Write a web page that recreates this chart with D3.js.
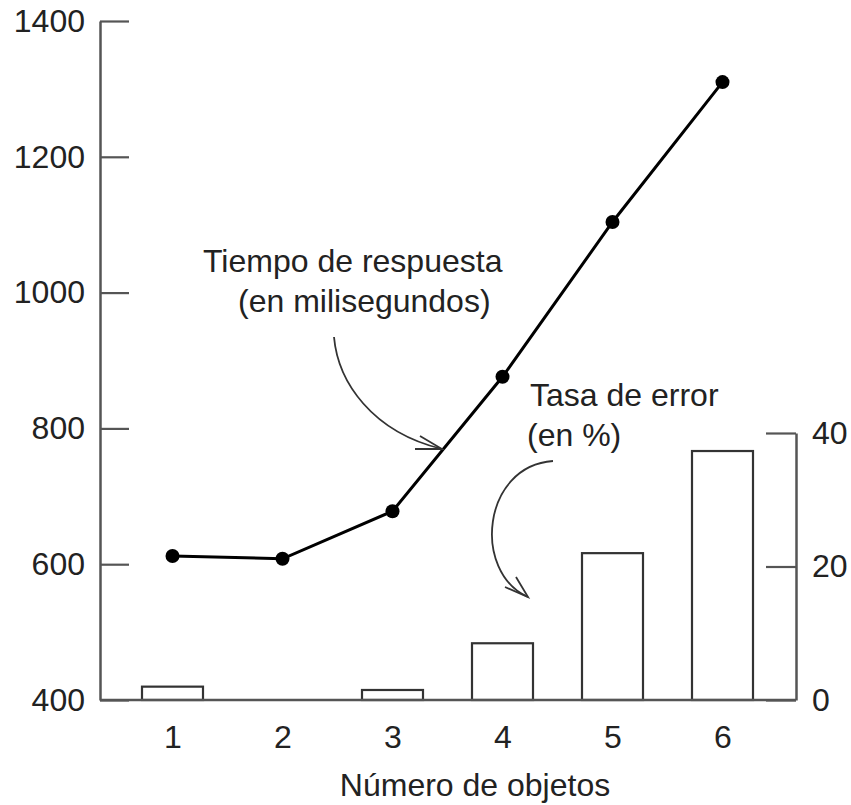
<!DOCTYPE html>
<html>
<head>
<meta charset="utf-8">
<script src="https://cdn.jsdelivr.net/npm/d3@7"></script>
<style>
  html, body { margin: 0; padding: 0; background: #fff; }
  text { font-family: "Liberation Sans", Arial, Helvetica, sans-serif; fill: #222; }
</style>
</head>
<body>
<svg id="chart" width="851" height="805"></svg>
<script>
// ---- data ----
const categories = [1, 2, 3, 4, 5, 6];
const responseTime = [612, 608, 678, 876, 1104, 1310];   // ms (left axis)
const errorRate = [2.0, 0, 1.5, 8.5, 22.0, 37.3];        // % (right axis)
const leftTicks = [400, 600, 800, 1000, 1200, 1400];
const rightTicks = [0, 20, 40];
const xTitle = "Número de objetos";
const lineLabel = ["Tiempo de respuesta", "(en milisegundos)"];
const barLabel = ["Tasa de error", "(en %)"];

const svg = d3.select("#chart");
const FS = 32;
const axisColor = "#555";

const x = d3.scalePoint().domain(categories).range([172.5, 722.5]);
const yL = d3.scaleLinear().domain([400, 1400]).range([700, 21]);
const yR = d3.scaleLinear().domain([0, 40]).range([700, 433]);
const leftX = 100, rightX = 796;

// bars
const barW = 61;
svg.append("g").selectAll("rect")
  .data(categories.map((c, i) => ({c, v: errorRate[i]})).filter(d => d.v > 0))
  .join("rect")
  .attr("x", d => x(d.c) - barW / 2)
  .attr("y", d => yR(d.v))
  .attr("width", barW)
  .attr("height", d => yR(0) - yR(d.v))
  .attr("fill", "#fff")
  .attr("stroke", "#333")
  .attr("stroke-width", 2.2);

// left axis
const gL = svg.append("g").attr("transform", `translate(${leftX},0)`)
  .call(d3.axisLeft(yL).tickValues(leftTicks).tickFormat(d3.format("d"))
    .tickSizeInner(-29).tickSizeOuter(0).tickPadding(15));
gL.select(".domain").attr("stroke", axisColor).attr("stroke-width", 2.5);
gL.selectAll(".tick line").attr("stroke", axisColor).attr("stroke-width", 2.2);
gL.selectAll(".tick text").attr("font-size", FS).attr("fill", "#222")
  .style("font-family", "'Liberation Sans', Arial, sans-serif");

// right axis
const gR = svg.append("g").attr("transform", `translate(${rightX},0)`)
  .call(d3.axisRight(yR).tickValues(rightTicks).tickFormat(d3.format("d"))
    .tickSizeInner(-30).tickSizeOuter(0).tickPadding(16));
gR.select(".domain").attr("stroke", axisColor).attr("stroke-width", 2.5);
gR.selectAll(".tick line").attr("stroke", axisColor).attr("stroke-width", 2.2);
gR.selectAll(".tick text").attr("font-size", FS).attr("fill", "#222")
  .style("font-family", "'Liberation Sans', Arial, sans-serif");

// bottom axis
svg.append("line").attr("x1", leftX).attr("x2", rightX).attr("y1", 700).attr("y2", 700)
  .attr("stroke", axisColor).attr("stroke-width", 2.5);
const gB = svg.append("g").attr("transform", "translate(0,700)")
  .call(d3.axisBottom(x).tickSize(0).tickPadding(25));
gB.select(".domain").remove();
gB.selectAll(".tick text").attr("font-size", FS).attr("fill", "#222")
  .style("font-family", "'Liberation Sans', Arial, sans-serif");

svg.append("text").attr("x", 475).attr("y", 796).attr("text-anchor", "middle")
  .attr("font-size", FS).text(xTitle);

// line
const lineData = categories.map((c, i) => ({c, v: responseTime[i]}));
svg.append("path").datum(lineData)
  .attr("fill", "none").attr("stroke", "#000").attr("stroke-width", 3)
  .attr("d", d3.line().x(d => x(d.c)).y(d => yL(d.v)));
svg.append("g").selectAll("circle").data(lineData).join("circle")
  .attr("cx", d => x(d.c)).attr("cy", d => yL(d.v)).attr("r", 7).attr("fill", "#000");

// annotations
const ann = svg.append("g").attr("font-size", FS);
ann.append("text").attr("x", 203).attr("y", 272).text(lineLabel[0]);
ann.append("text").attr("x", 238).attr("y", 312).text(lineLabel[1]);
ann.append("text").attr("x", 530).attr("y", 406).text(barLabel[0]);
ann.append("text").attr("x", 527).attr("y", 446).text(barLabel[1]);

const arrowStyle = s => s.attr("fill", "none").attr("stroke", "#333").attr("stroke-width", 1.8);
svg.append("path").attr("d", "M334,337 C338,382 372,432 442,449").call(arrowStyle);
svg.append("path").attr("d", "M420,436 L442,449 L415,449").call(arrowStyle);
svg.append("path").attr("d", "M553,461 C482,466 472,572 528,597").call(arrowStyle);
svg.append("path").attr("d", "M505,587 L528,597 L516,577").call(arrowStyle);
</script>
</body>
</html>
